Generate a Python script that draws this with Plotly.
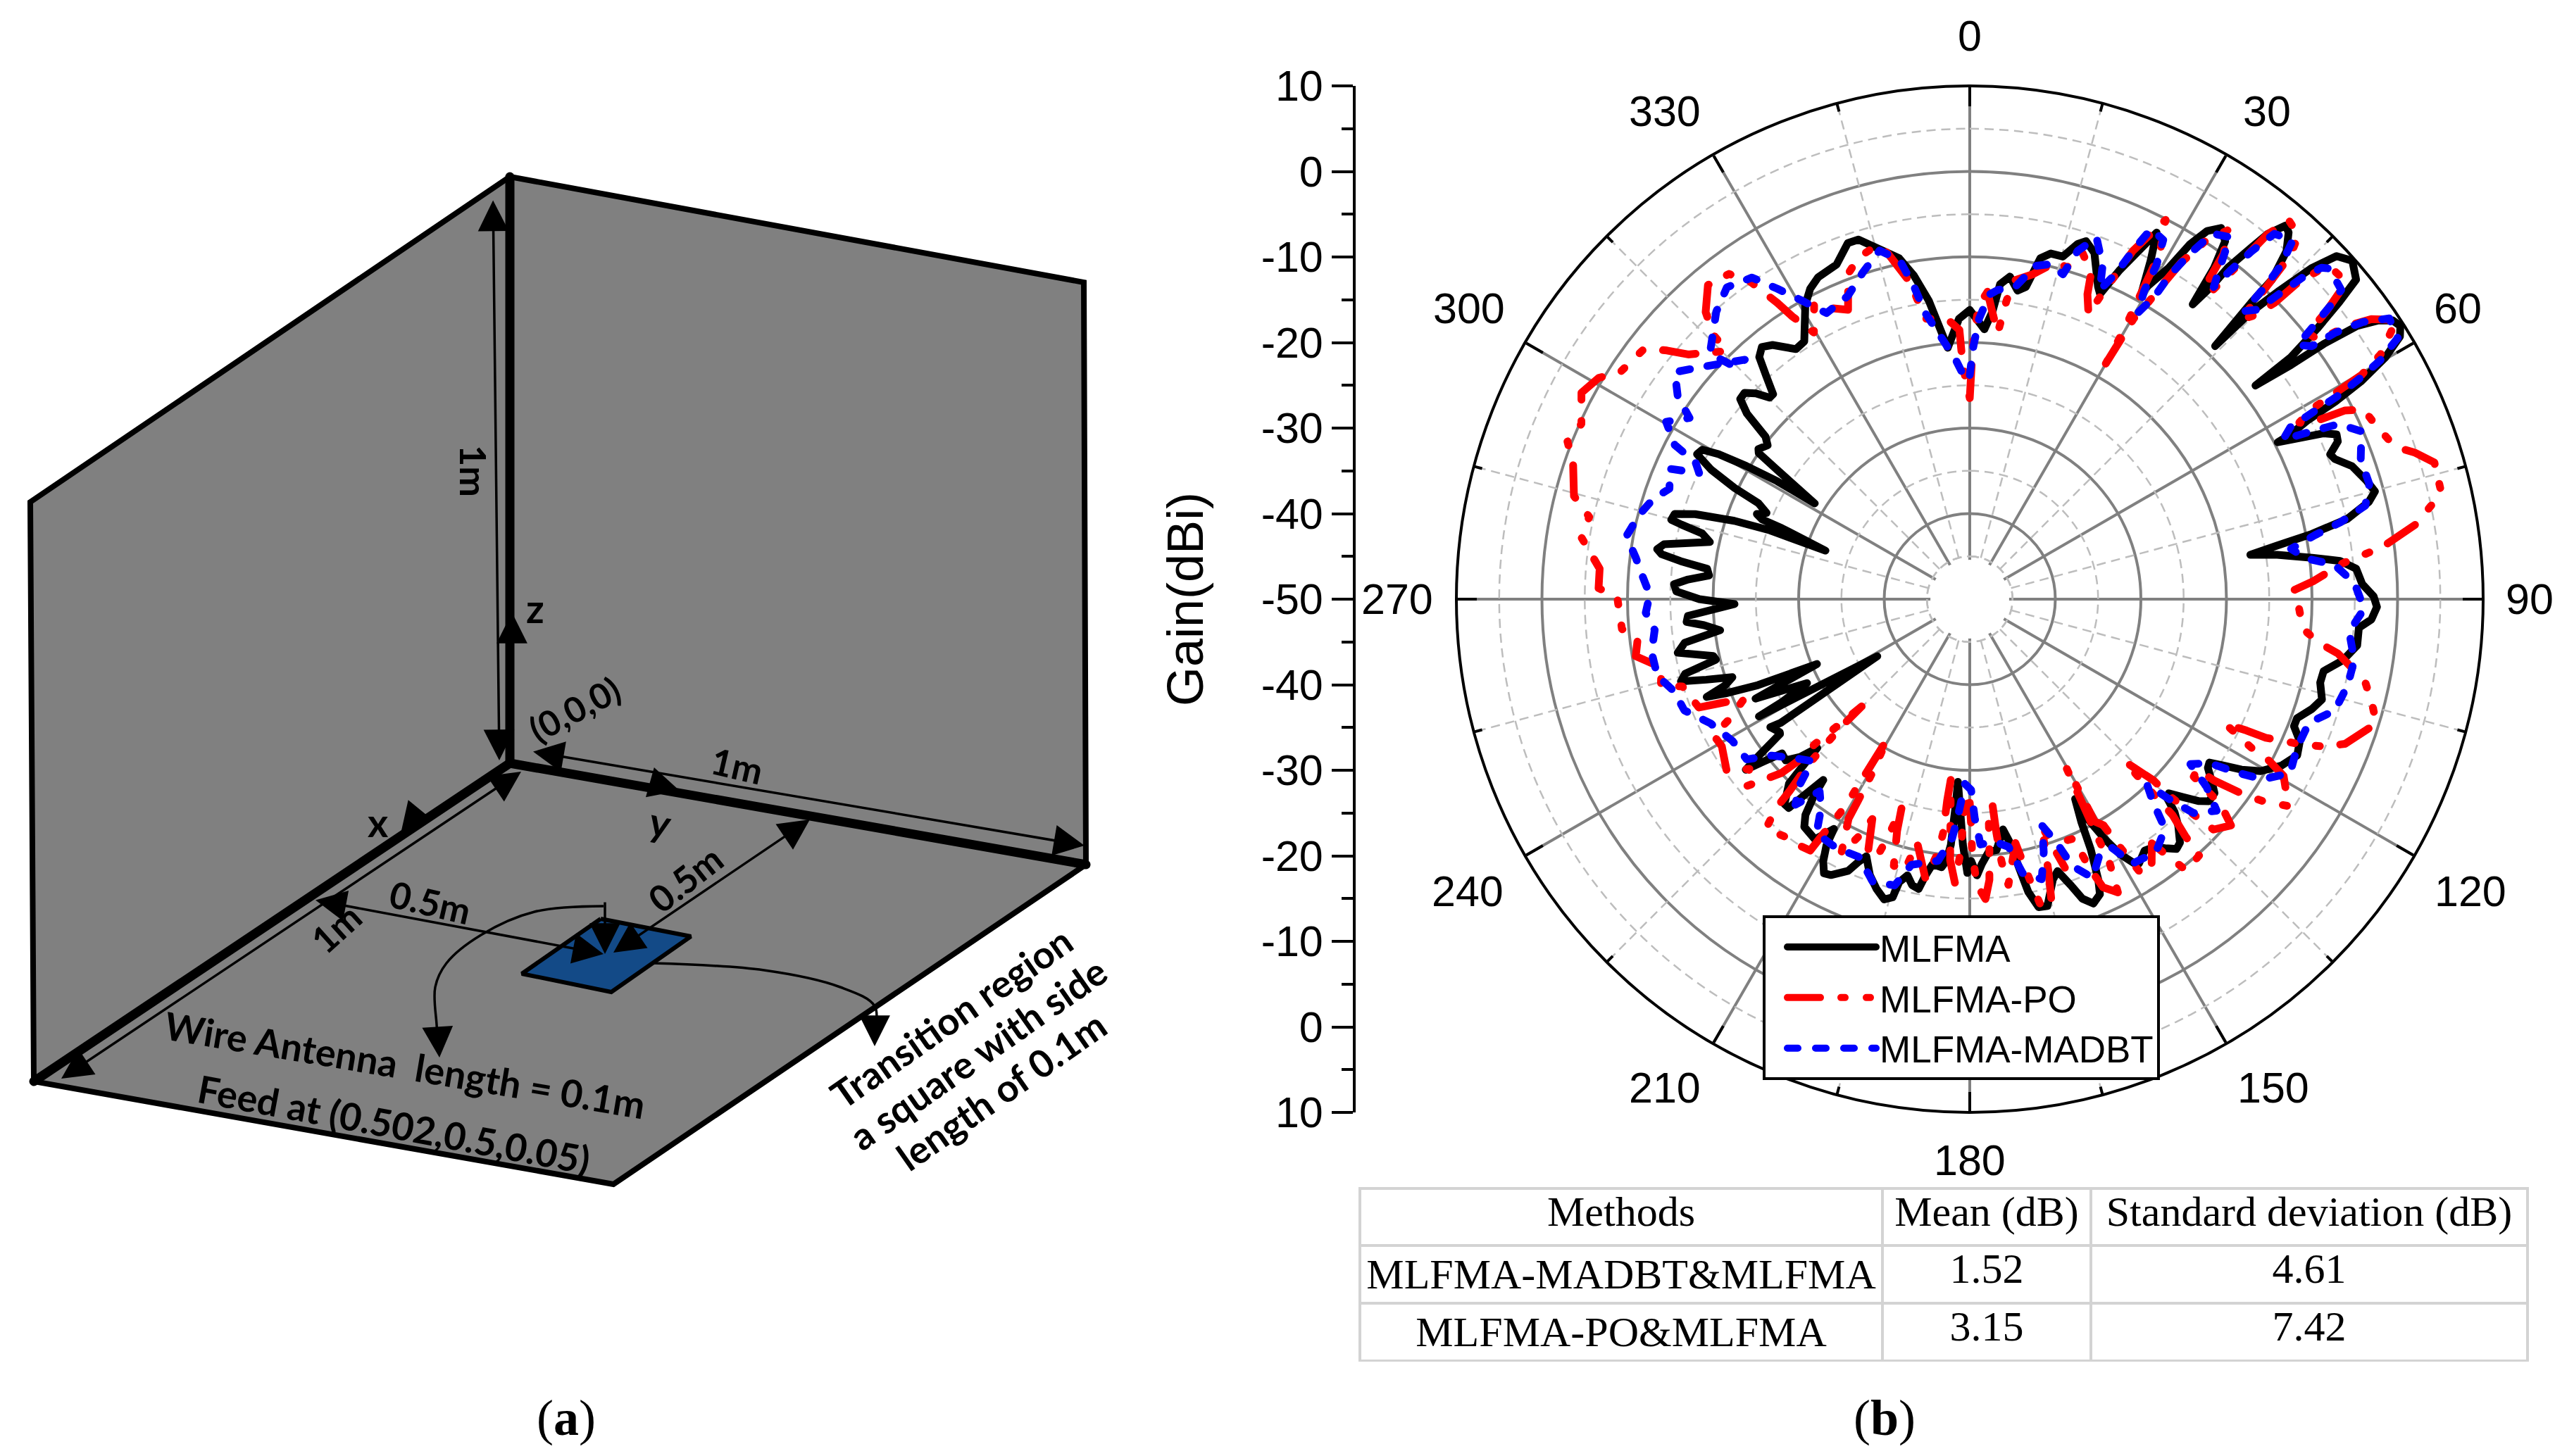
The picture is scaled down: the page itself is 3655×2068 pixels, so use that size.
import numpy as np
import plotly.graph_objects as go

W, H = 3655, 2068
CX, CY, RAD = 2797, 851, 729

# ---- polar data (angle in degrees, gain in dBi) ----
mlfma_theta = [0,3.1,4.5,5.5,7.1,8.8,10.2,11.7,13.2,15.2,16.9,18,19.8,22.3,23.1,24.5,27,28.1,29.2,31,31.8,32.8,34.1,35.5,36.4,37.1,37.7,37.9,38.7,39.2,
 40.2,41,42.3,43.4,43.5,44.1,44.4,45.1,45.9,46.9,48.5,50.4,51.2,52.1,53,53.2,53.9,54.2,54.8,55.7,56.6,57.6,58.6,59.8,60.9,61.6,62.1,62.8,63,64,
 64.9,65.8,66.8,68.1,69,70.8,73.4,75.1,76.3,78,79.2,80.1,81,81.8,83.1,84.1,85.5,87.8,89.6,91.1,92.9,94.2,96.8,99.3,101.5,103.4,105.9,107.8,110,111.4,
 113.3,115.5,118.1,120.6,122.1,123.3,124.3,125.3,127,128.4,130.2,131.4,132.9,134.3,135.2,136.1,137.4,139.2,140.4,141.9,143.4,145.2,147.4,148,149.5,150.7,151.8,152.2,153.4,154.2,
 155.4,156.2,157.9,159.4,160.6,162.1,163.5,165.8,167.4,168.7,169.6,170.6,171.8,173.9,175.7,177.4,178.5,179.7,180.5,181.6,183.7,183.9,184.4,185.1,186,188,189.1,190,191.4,192.7,
 194,194.5,195.9,197.8,199.9,201.9,202.9,204.1,206.7,208,209.2,210.2,210.6,212.8,216,217.3,218.3,219,220.1,220.9,222.1,224.4,225,225.7,227,228.8,230.6,231.8,232.7,233.3,
 234.6,235,237.3,236.8,238.3,240.9,241.3,242.7,245.1,247,247.9,248.9,249.6,250.6,251.8,253,254.1,255.3,256.6,257.5,259.6,261.3,262.9,264.4,265.4,266.6,268.8,270,271.5,272.9,
 274,275.2,276.6,277.5,278.3,279.1,280.2,282.4,283.8,284.5,284.9,286.1,287.2,288.4,289,288.6,290.7,291,291.8,293,294.4,295.3,296.6,298,299.2,300,300.8,301.5,301.7,303.9,
 304.7,305.4,307.3,308.5,309.8,311.1,312.5,313.9,315.2,316.2,317.7,319,320.5,322.2,325.2,327.3,330.8,332.8,334.8,338.3,341.1,342.8,345.3,348.3,350.2,352.2,355,357.8,360]
mlfma_db = [-16.2,-18.4,-16.3,-13,-12,-13.5,-12.9,-9.3,-8.5,-8.5,-6.6,-6,-7,-10.5,-11.2,-7.7,-1.9,-5.1,-8.7,-4.8,-1.2,1.2,2.4,1.4,-1.9,-6.8,-3.8,-0.9,2.7,5.1,
 7.2,6.8,5,1.4,-2.2,-8.8,-3,1.1,5.6,8.7,9.7,8.6,5.4,1.4,-3,-8.3,-3.5,1,5.4,7.8,9.2,9.6,8.9,6.2,2.3,-1.4,-5.3,-7.8,-9.6,-7,
 -4.3,-3,-3.2,-4.6,-4.3,-2.7,-1.6,-1,-2,-4.9,-9.3,-13.5,-16.8,-13.7,-9.7,-6.5,-4.7,-4.1,-2.8,-2.4,-3,-4.4,-4.4,-5.8,-7.8,-7.9,-7.2,-8,-9.3,-9.3,
 -8,-7.6,-8.7,-10.5,-12.5,-14.6,-16.1,-15.9,-14.6,-13.5,-13.4,-14.3,-16,-17.5,-17.3,-15.5,-14,-12.4,-12.1,-13,-13.9,-14.2,-13.3,-13.5,-15.4,-18,-20.9,-23.6,-20.9,-17.5,
 -13.9,-12.3,-11.6,-12.6,-14.6,-16.6,-15.8,-13,-13.1,-15.1,-18.1,-21.1,-22.8,-20.5,-20.4,-19,-17.7,-19.4,-18,-21.3,-28.6,-25.9,-21.2,-19.3,-18.5,-18.7,-17.3,-15.6,-15.9,-16.9,
 -15.9,-14,-13.5,-14.4,-15.7,-17.6,-16.7,-15.2,-13.9,-13.7,-14.9,-16.7,-18.8,-16.6,-17.1,-18.3,-20.5,-22.8,-20.2,-17.7,-17.7,-19.8,-22.4,-25.1,-23,-21.4,-21.6,-19.3,-17.1,-18.9,
 -22.8,-22.9,-22.3,-23.6,-37.3,-21.8,-25,-28.6,-22.4,-30.6,-23.3,-19.4,-17.2,-19.7,-20.8,-17.8,-14.9,-15.6,-19.5,-19.3,-15.3,-16.3,-20.6,-18.8,-16.8,-17,-22.5,-18.4,-15.7,-15.4,
 -17,-19.4,-19.1,-15.9,-13.6,-13,-13.7,-18.9,-17.8,-15.2,-13.9,-14.1,-16.4,-21,-25.3,-32.2,-26.5,-24,-23.2,-24.2,-22.9,-19.6,-16.2,-13.9,-14.2,-16.1,-19.6,-23.6,-28.7,-22.8,
 -20,-19.7,-20.3,-19.5,-16.1,-14.4,-14.3,-15.3,-16.8,-16.8,-14.6,-12.5,-11.8,-12.4,-14.4,-14.2,-10.6,-9.2,-8.4,-7.9,-6,-6,-7.6,-9.3,-11.6,-14.8,-20.5,-17.2,-16.2]

po_theta = [0,0.5,0.9,1.8,3.3,4.7,6,7,7.9,11,14.4,16.3,18,20.4,21.1,22.6,23.5,25.1,27.3,28.7,29,29.7,29.9,30,30.3,31,31.6,32.1,33.3,35,
 36.3,36.8,38.1,38.7,39.2,40.1,42.1,43,43.4,43.8,44,45.1,45.8,46,46.8,47.4,49.5,50.2,51.1,51.8,53.4,54.1,55.1,56.8,59.2,60.2,60.5,60.9,61.8,62.6,
 63.3,64.3,66.7,70.3,71.8,73.6,77.3,78.9,80.5,82.8,83.6,84.5,87,88.4,90.2,95.1,97.1,98.4,101.8,104.4,107,111.1,112.6,113.6,115.1,115.4,116,117.9,118.3,119.4,
 123,124.4,125.4,126.6,126.8,128.4,129.3,130.9,133.4,134.1,134.6,134.6,136.3,136.7,136.8,137.7,138.2,141.4,142.3,143.3,146.2,148.1,149,149.4,150.7,150.4,150.1,150.2,151.8,152,
 153.2,155.2,156,156.6,158,161.3,160.5,162.4,163.9,165,167,167.8,169.4,172.3,173.1,173.5,173.7,175.1,175.4,176,177,178.6,179.5,179.6,180,181.4,181.8,182,183,184.3,
 186,186.4,186.5,187.1,189,192.2,193.5,195.9,197.4,198.1,199,199.8,201.8,203.9,205,206.8,208.9,209,209.3,210.5,210.9,211,211.7,212.4,215.4,218,221.6,222.8,223.2,224.3,
 224.7,225.2,225.2,226.9,226.7,227.3,230.2,232.4,234.7,239.3,242,243.4,246.2,247.4,248.2,253.1,254.3,257.5,260.3,263.1,265.1,270.3,271.7,274.7,279.1,282.2,284.6,288.9,291.4,294.3,
 298,300.8,303.1,307.6,309.4,311,315.6,315.9,317.4,320.2,323.5,325.4,327,327.9,329.7,332.2,334.2,337.2,339.5,342,345.4,346.7,349.4,351,355.5,357.8,358.3,360]
po_db = [-26.5,-22.2,-18.9,-15.6,-14,-16.7,-18.7,-14.9,-12.4,-11.3,-9.3,-9.6,-7.4,-9.3,-11.8,-13.9,-10.8,-5,-0.1,-3.7,-6.4,-13,-15.5,-18.2,-12,-9.6,-6.4,-3.6,0,2.7,
 0.1,-3.3,-4.6,-0.3,5,7.9,7.3,4.9,1.4,-1.8,-4.6,-3,-0.3,3,6.5,7.3,7.5,6.5,3.5,0.3,0.8,4.5,7.2,9.6,5.9,2.8,-0.2,-4.2,-6.3,-5.5,
 -0.9,1.1,1.6,2.8,4.8,6.6,6.5,4.6,2.8,-1.4,-3.8,-6.2,-9.8,-12.1,-11.7,-10.9,-8.9,-6.5,-2.8,-1.5,-0.3,-3,-5.2,-7.5,-11.8,-14.2,-16.8,-12.6,-10.4,-7.9,
 -5.6,-8,-10.3,-14.5,-16.8,-16.6,-12.1,-9.6,-10.8,-14.7,-17.3,-19.8,-23.7,-19.3,-15.4,-12.6,-9.8,-9.4,-11.9,-14.4,-11.8,-12.6,-17,-19.3,-20.2,-23.3,-26,-27.3,-18.1,-15.3,
 -11.6,-12.9,-15.6,-19.5,-19.6,-19.2,-16.7,-22.2,-16.8,-12.9,-13.4,-16,-21,-16.3,-19.1,-22.5,-25.8,-24,-21.4,-17.1,-14.9,-16.6,-20.7,-23.2,-26.2,-26,-23.3,-20.7,-16.8,-19.4,
 -28.8,-26.3,-22.5,-20.2,-16.9,-20.9,-17.3,-17.6,-21.6,-24.4,-20.5,-18,-17.9,-21.9,-19.5,-16.7,-20.7,-23.1,-26.8,-31,-24,-21.6,-19,-15.2,-14.9,-14.8,-14.1,-16.7,-19.3,-22.9,
 -25.8,-28.8,-32.2,-25.2,-22.3,-20,-15.7,-17.5,-15.2,-16.3,-16.1,-18.5,-21.2,-18.3,-15.9,-14.9,-12.5,-13.1,-10.4,-10.9,-9.2,-8.8,-6.6,-6.6,-4,-4.5,-2.2,-1,0.5,-0.2,
 1.4,0.5,-1.3,-2,-4.2,-6.4,-9.4,-6.9,-4.4,-2.2,-2.7,-5,-8.7,-11,-13.9,-11,-12.2,-13.3,-9.4,-8,-7.2,-8.5,-12.4,-16.8,-17.2,-18.5,-22.7,-26.5]

madbt_theta = [0,0.8,1.9,3.7,5.2,8.3,11.1,13.6,16,17.2,19.3,21.7,22.8,24.2,25.1,26.1,28.3,29.2,29.5,30.4,31.4,31.7,32.5,33.6,35.7,36.8,38,38.4,39,39.8,
 42,43,43.4,43.6,44.8,45.4,46,46.7,47.4,50.2,50.7,51.4,52.2,53.5,53.9,54.8,56.2,58.6,59.8,60.5,61.1,61.4,61.8,63,63.8,64.6,66.8,70.4,73.9,76.7,
 78.3,79.5,81.1,83.1,84.6,87.6,91.4,94.9,99,102.8,107,110,114.4,118.5,121.6,123,124.4,126.8,128.4,130.6,133.7,135,136.3,137.9,139.6,143.6,148.4,150,150.4,153.4,
 156.2,159,160.5,162.3,163.7,165.6,169.1,171.1,174.2,177.5,178.7,179.6,181.5,182.9,184.2,186.9,192.4,194.7,199,203.2,208.3,213.2,215.4,218,220.3,222.4,224.2,227.9,231.7,234.3,
 239.1,244.4,248.7,252.7,256.2,260.5,264.4,267.6,270.8,274.2,277,280.4,284.2,287.6,290.2,293.5,295,296.5,297.6,300.3,302.9,304.7,307.6,311,316.8,314.7,313.4,318.6,322.1,325.9,
 328.2,330.6,333.4,338.1,341.9,345.5,348.3,349.9,351.2,356.5,359,360]
madbt_db = [-23.8,-20.5,-17.2,-14.3,-13.7,-13.1,-10.3,-9.7,-10.5,-7.4,-5.2,-8,-10.8,-8.2,-4.9,-1.8,-2.3,-5.3,-8.6,-11.2,-8.6,-5.4,-2.1,1.3,2.1,-0.9,-3.7,-1,2.3,5.6,
 6.4,3.3,0,-3.5,-2.3,0.9,4.3,6.5,7.1,6.5,5.1,1.9,-1.5,-0.3,2.9,6.2,9,8.6,5.5,2.3,-1,-4.2,-7.5,-8.9,-5.7,-2.3,-0.2,-1.5,-1.4,-2.5,
 -5.8,-9,-12,-10.4,-7.2,-5,-3.9,-5.5,-4.5,-4.7,-5.4,-7.8,-8,-7.4,-9.8,-12.8,-16.1,-17.8,-14.7,-12,-13.8,-16.8,-20,-18.1,-14.8,-13.3,-13.7,-16.2,-16.7,-16.3,
 -14.4,-16.6,-20,-22.2,-19.2,-16.2,-17.4,-20.7,-21.5,-21.3,-24.4,-27.7,-28.4,-25.2,-22,-19.2,-18.2,-15.4,-15.1,-17.2,-17,-17.3,-20,-21.5,-18.5,-20.4,-23.6,-22.3,-20.5,-17.9,
 -17.7,-16.4,-14.2,-13.8,-12.4,-12.3,-13,-12.1,-12.6,-11.6,-10.7,-9.2,-10.1,-11.2,-12.6,-11.8,-15.1,-14.2,-11.1,-8.9,-11,-8.5,-6.5,-8.6,-11.6,-11.4,-8.2,-5.2,-3.8,-4.6,
 -7.3,-9.9,-12.6,-11.8,-9.8,-7.9,-9.5,-12.9,-16.2,-21.8,-24.4,-23.8]

series_names = ["MLFMA", "MLFMA-PO", "MLFMA-MADBT"]

# ---- axis labels ----
angle_ticks = [0,30,60,90,120,150,180,210,240,270,300,330]
angle_label_pos = [(2797,51),(3219,158),(3490,438),(3592,851),(3508,1266),(3228,1545),(2797,1648),(2364,1545),(2084,1266),(1984,851),(2086,438),(2364,158)]
radial_solid = [-40,-30,-20,-10,0]
radial_dashed = [-45,-35,-25,-15,-5,5]
gain_tick_pos = [10,0,-10,-20,-30,-40,-50,-60,-70,-80,-90,-100,-110]
gain_tick_text = ["10","0","-10","-20","-30","-40","-50","-40","-30","-20","-10","0","10"]
gain_minor_pos = [5,-5,-15,-25,-35,-45,-55,-65,-75,-85,-95,-105]

# ---- table ----
table_header = ["Methods", "Mean (dB)", "Standard deviation (dB)"]
table_methods = ["MLFMA-MADBT&MLFMA", "MLFMA-PO&MLFMA"]
table_mean = ["1.52", "3.15"]
table_std = ["4.61", "7.42"]

# ---- panel (a): schematic geometry, in picture pixels ----
wall_left = [(724,251),(43,713),(48,1536),(724,1084)]
wall_right = [(724,251),(1539,401),(1542,1228),(724,1084)]
floor_poly = [(724,1084),(1542,1228),(871,1682),(48,1536)]
patch_poly = [(853,1305),(981,1330),(868,1409),(741,1383)]
thin_edges = [[(724,251),(43,713),(48,1536),(871,1682),(1542,1228),(1539,401),(724,251)]]
thick_edges = [[(724,251),(724,1084)],[(724,1084),(48,1536)],[(724,1084),(1542,1228)]]
curve_wire = [(857,1287),(759,1295),(683,1328),(634,1368),(618,1402),(620,1455),(622,1480)]
curve_region = [(927,1368),(1085,1378),(1193,1402),(1242,1429),(1242,1465)]
double_arrows = [((700,276),(709,1080)),((754,1067),(1540,1201)),((743,1094),(87,1532)),((445,1278),(857,1355)),((868,1355),(1150,1164))]
single_arrows = [((727,900),(727,870)),((933,1114),(965,1123)),((591,1157),(569,1184)),((859,1273),(859,1355)),((622,1470),(624,1502)),((1242,1455),(1242,1486))]
diagram_labels = [("1m",673,669,90,52),("z",760,863,0,56),("(0,0,0)",816,1007,-28,50),("1m",1047,1087,13,52),("y",938,1167,12,56),
    ("x",537,1167,0,56),("1m",477,1318,-42,52),("0.5m",611,1281,13,52),("0.5m",973,1248,-38,52),
    ("Wire Antenna  length = 0.1m",575,1512,9.5,54),("Feed at (0.502,0.5,0.05)",559,1596,10.5,54),
    ("Transition region",1350,1445,-35,54),("a square with side",1388,1496,-35,54),("length of 0.1m",1421,1549,-35,54)]

fig = go.Figure()

def poly(pts, fill=None, color="black", width=0, shape="linear"):
    xs, ys = zip(*pts)
    fig.add_trace(go.Scatter(x=xs, y=ys, mode="lines", fill="toself" if fill else None, fillcolor=fill,
        line=dict(color=color, width=width, shape=shape), hoverinfo="skip", showlegend=False, xaxis="x", yaxis="y"))

poly(wall_left, "#808080", "#808080", 0)
poly(wall_right, "#808080", "#808080", 0)
poly(floor_poly, "#808080", "#808080", 0)
for e in thin_edges:
    poly(e, None, "black", 8)
for e in thick_edges:
    poly(e, None, "black", 13)
poly(patch_poly + patch_poly[:1], "#134a87", "black", 6)
poly(curve_wire, None, "black", 3.5, "spline")
poly(curve_region, None, "black", 3.5, "spline")

# left gain axis
fig.add_trace(go.Scatter(x=[0,0], y=[10,-110], mode="markers", marker=dict(opacity=0), hoverinfo="skip",
    showlegend=False, xaxis="x2", yaxis="y2"))

# polar grid pieces that the library has no minor style for
ring_t = np.arange(0, 361, 2)
for r in radial_dashed:
    fig.add_trace(go.Scatterpolar(theta=ring_t, r=[r]*len(ring_t), mode="lines",
        line=dict(color="#bdbdbd", width=2.5, dash="13px,8px"), hoverinfo="skip", showlegend=False))
for a in angle_ticks:
    fig.add_trace(go.Scatterpolar(theta=[a+15, a+15], r=[-45, 9], mode="lines",
        line=dict(color="#bdbdbd", width=2.5, dash="13px,8px"), hoverinfo="skip", showlegend=False))
    fig.add_trace(go.Scatterpolar(theta=[a+15, a+15], r=[9, 10], mode="lines",
        line=dict(color="black", width=4), hoverinfo="skip", showlegend=False))
fig.add_trace(go.Scatterpolar(theta=ring_t, r=[-45.4]*len(ring_t), mode="lines", fill="toself", fillcolor="white",
    line=dict(color="white", width=0), hoverinfo="skip", showlegend=False))
for r in [-45]:
    fig.add_trace(go.Scatterpolar(theta=ring_t, r=[r]*len(ring_t), mode="lines",
        line=dict(color="#bdbdbd", width=2.5, dash="13px,8px"), hoverinfo="skip", showlegend=False))

fig.add_trace(go.Scatterpolar(theta=mlfma_theta, r=mlfma_db, mode="lines", name=series_names[0],
    line=dict(color="black", width=11)))
fig.add_trace(go.Scatterpolar(theta=po_theta, r=po_db, mode="lines", name=series_names[1],
    line=dict(color="#ff0000", width=11, dash="47px,29px,6px,30px,6px,30px")))
fig.add_trace(go.Scatterpolar(theta=madbt_theta, r=madbt_db, mode="lines", name=series_names[2],
    line=dict(color="#0000ff", width=11, dash="15px,25px")))

fig.add_trace(go.Table(
    domain=dict(x=[1931/W, 3589/W], y=[1-1934/H, 1-1688/H]),
    columnwidth=[742, 296, 620],
    header=dict(values=table_header, height=81, align="center", fill_color="white",
        line=dict(color="#d3d3d3", width=4), font=dict(family="Liberation Serif", size=60, color="black")),
    cells=dict(values=[table_methods, table_mean, table_std], height=81, align="center", fill_color="white",
        line=dict(color="#d3d3d3", width=4), font=dict(family="Liberation Serif", size=60, color="black"))))

ann = []
for (a, b) in double_arrows:
    ann.append(dict(x=b[0], y=b[1], ax=a[0], ay=a[1], xref="x", yref="y", axref="x", ayref="y", text=" ",
        showarrow=True, arrowhead=2, arrowside="end+start", startarrowhead=2, arrowsize=2.5, startarrowsize=2.5, arrowwidth=3.5, arrowcolor="black"))
for (a, b) in single_arrows:
    ann.append(dict(x=b[0], y=b[1], ax=a[0], ay=a[1], xref="x", yref="y", axref="x", ayref="y", text=" ",
        showarrow=True, arrowhead=2, arrowsize=2.5, arrowwidth=3.5, arrowcolor="black"))
for t, x, y, ang, sz in diagram_labels:
    ann.append(dict(x=x, y=y, xref="x", yref="y", text=t, textangle=ang, showarrow=False,
        font=dict(family="Lato", size=sz, color="black", weight="bold")))
for a, (x, y) in zip(angle_ticks, angle_label_pos):
    ann.append(dict(x=x, y=y, xref="x", yref="y", text=str(a), showarrow=False,
        font=dict(family="Liberation Sans", size=61, color="black")))
ann.append(dict(x=804, y=2014, xref="x", yref="y", text="(<b>a</b>)", showarrow=False,
    font=dict(family="Liberation Serif", size=72, color="black")))
ann.append(dict(x=2676, y=2014, xref="x", yref="y", text="(<b>b</b>)", showarrow=False,
    font=dict(family="Liberation Serif", size=72, color="black")))
ann.append(dict(x=1683, y=851, xref="x", yref="y", text="Gain(dBi)", textangle=-90, showarrow=False,
    font=dict(family="Liberation Sans", size=72, color="black")))

fig.update_layout(
    width=W, height=H, margin=dict(l=0, r=0, t=0, b=0, autoexpand=False), paper_bgcolor="white", plot_bgcolor="rgba(0,0,0,0)",
    font=dict(family="Liberation Sans", color="black"),
    xaxis=dict(domain=[0,1], range=[0,W], visible=False, fixedrange=True),
    yaxis=dict(domain=[0,1], range=[H,0], visible=False, fixedrange=True),
    xaxis2=dict(domain=[0,1], range=[-1,1], visible=False, anchor="y2"),
    yaxis2=dict(domain=[1-(CY+RAD)/H, 1-(CY-RAD)/H], range=[-110,10], anchor="free", position=1923/W,
        tickmode="array", tickvals=gain_tick_pos, ticktext=gain_tick_text,
        ticks="outside", ticklen=30, tickwidth=4, tickcolor="black", showline=True, linecolor="black", linewidth=4,
        showgrid=False, zeroline=False, tickfont=dict(family="Liberation Sans", size=61, color="black"),
        minor=dict(tickmode="array", tickvals=gain_minor_pos, ticks="outside", ticklen=16, tickwidth=4, tickcolor="black", showgrid=False)),
    polar=dict(
        domain=dict(x=[(CX-RAD)/W, (CX+RAD)/W], y=[1-(CY+RAD)/H, 1-(CY-RAD)/H]),
        bgcolor="white",
        angularaxis=dict(rotation=90, direction="clockwise", tickmode="array", tickvals=angle_ticks,
            showticklabels=False, ticks="inside", ticklen=27, tickwidth=4, tickcolor="black",
            showline=True, linecolor="black", linewidth=4, gridcolor="#808080", gridwidth=3.5),
        radialaxis=dict(range=[-50,10], tickmode="array", tickvals=radial_solid, showticklabels=False, ticks="",
            showline=False, gridcolor="#808080", gridwidth=3.5)),
    legend=dict(x=2503/W, y=1-1300/H, xanchor="left", yanchor="top", bgcolor="white", bordercolor="black", borderwidth=4,
        font=dict(family="Liberation Sans", size=53, color="black"), itemwidth=126, tracegroupgap=0,
        indentation=26, entrywidth=432, entrywidthmode="pixels"),
    annotations=ann,
)

post = """
document.body.style.margin='0';
document.querySelectorAll('path.js-line, .legendlines path').forEach(function(p){
  if(parseFloat(p.style.strokeWidth)>=10){p.style.strokeLinecap='round';p.style.strokeLinejoin='round';}
});
"""
fig.write_html("out.html", post_script=post, config=dict(displayModeBar=False))
